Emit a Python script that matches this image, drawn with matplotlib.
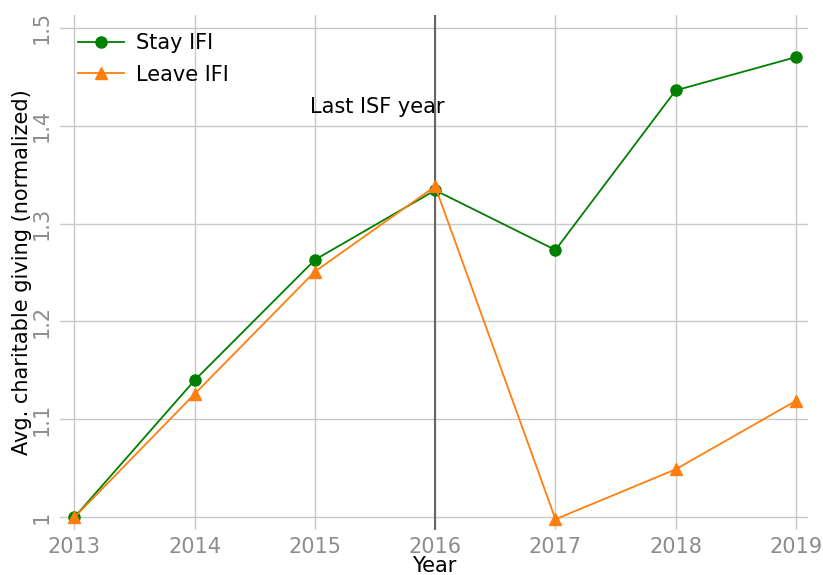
import matplotlib
matplotlib.use("Agg")
import matplotlib.pyplot as plt

years = [2013, 2014, 2015, 2016, 2017, 2018, 2019]
stay_ifi = [1.000, 1.140, 1.263, 1.334, 1.273, 1.436, 1.470]
leave_ifi = [1.000, 1.126, 1.251, 1.338, 0.998, 1.049, 1.119]
yticks = [1.0, 1.1, 1.2, 1.3, 1.4, 1.5]
ytick_labels = ["1", "1.1", "1.2", "1.3", "1.4", "1.5"]
last_isf_year = 2016

fig = plt.figure(figsize=(8.23, 5.75), dpi=100)
ax = fig.add_axes([60/823, 45/575, 748/823, 515/575])

ax.plot(years, stay_ifi, color="green", marker="o", markersize=8, linewidth=1.3, label="Stay IFI", zorder=3)
ax.plot(years, leave_ifi, color="#ff7f0e", marker="^", markersize=9, linewidth=1.3, label="Leave IFI", zorder=3)
ax.axvline(last_isf_year, color="#666666", linewidth=1.5, zorder=2)
ax.text(2015.52, 1.419, "Last ISF year", fontsize=15, ha="center", va="center")

ax.set_xlim(2012.88, 2019.1)
ax.set_ylim(0.987, 1.513)
ax.set_xticks(years)
ax.set_xticklabels([str(y) for y in years])
ax.set_yticks(yticks)
ax.set_yticklabels(ytick_labels, rotation=90, va="center")
ax.tick_params(axis="both", length=0, labelsize=15, labelcolor="#8c8c8c")
ax.tick_params(axis="x", pad=5)
ax.tick_params(axis="y", pad=6)
ax.grid(True, color="#c8c8c8", linewidth=1.0, zorder=0)
ax.set_axisbelow(True)
for s in ax.spines.values():
    s.set_visible(False)

ax.set_xlabel("Year", fontsize=15, labelpad=-1)
ax.set_ylabel("Avg. charitable giving (normalized)", fontsize=15, labelpad=0)
ax.legend(loc="upper left", frameon=False, fontsize=15, handlelength=2.2,
          borderaxespad=0.1, handletextpad=0.6, labelspacing=0.55, bbox_to_anchor=(0.01, 0.985))

fig.savefig("out.png", dpi=100)
